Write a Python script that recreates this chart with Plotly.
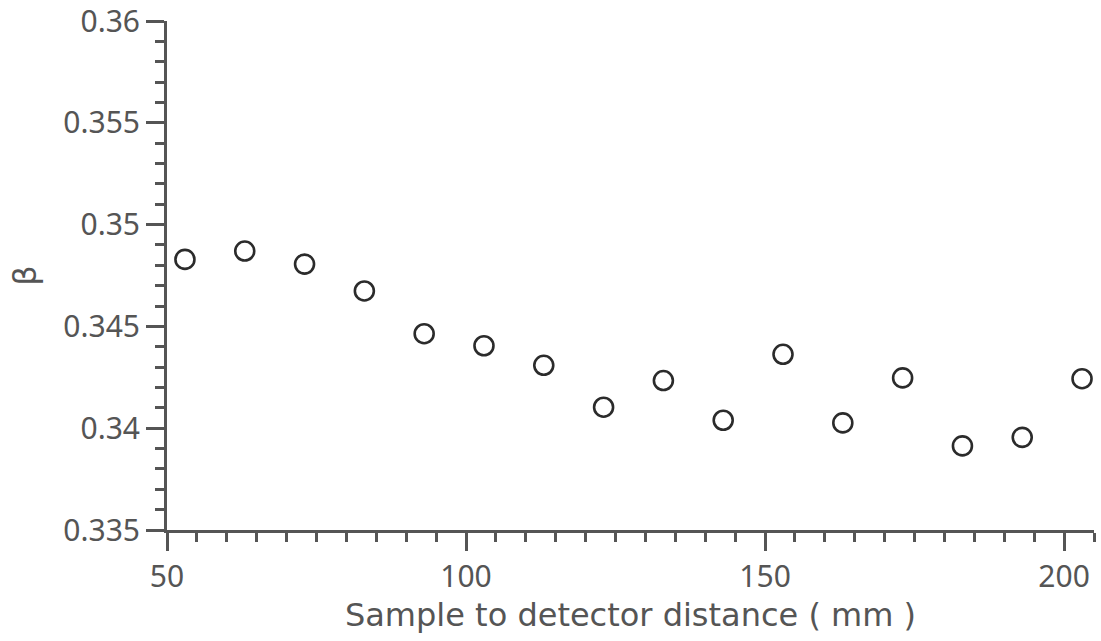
import plotly.graph_objects as go

distance_mm = [53, 63, 73, 83, 93, 103, 113, 123, 133, 143, 153, 163, 173, 183, 193, 203]
beta = [0.34829, 0.34870, 0.34806, 0.34674, 0.34464, 0.34405, 0.34309, 0.34103,
        0.34234, 0.34039, 0.34363, 0.34026, 0.34247, 0.33913, 0.33955, 0.34243]

x_ticks = [50, 100, 150, 200]
y_ticks = [0.335, 0.34, 0.345, 0.35, 0.355, 0.36]
y_tick_text = ["0.335", "0.34", "0.345", "0.35", "0.355", "0.36"]

axis_color = "#555555"
tick_font = "Noto Sans, Liberation Sans, sans-serif"
title_font = "DejaVu Sans, sans-serif"

fig = go.Figure(go.Scatter(
    x=distance_mm, y=beta, mode="markers",
    marker=dict(symbol="circle-open", size=19, color="#2b2b2b", line=dict(width=2.6, color="#2b2b2b")),
    showlegend=False, cliponaxis=False,
))

fig.update_layout(
    width=1101, height=641,
    margin=dict(l=167, r=7, t=21, b=111),
    paper_bgcolor="white", plot_bgcolor="white",
    font=dict(family=tick_font, size=30, color=axis_color),
)

fig.update_xaxes(
    range=[50, 205], tickvals=x_ticks, ticks="outside", ticklen=18, tickwidth=3,
    tickcolor=axis_color, showline=True, linewidth=3, linecolor=axis_color,
    showgrid=False, zeroline=False, automargin=False, ticklabeloverflow="allow",
    tickfont=dict(family=tick_font, size=30, color=axis_color),
    minor=dict(dtick=5, tick0=50, ticks="outside", ticklen=9, tickwidth=2.5, tickcolor=axis_color, showgrid=False),
    title=dict(text="Sample to detector distance ( mm )", standoff=2,
               font=dict(family=title_font, size=32, color=axis_color)),
)
fig.update_yaxes(
    range=[0.335, 0.36], tickvals=y_ticks, ticktext=y_tick_text, ticks="outside", ticklen=18, tickwidth=3,
    tickcolor=axis_color, showline=True, linewidth=3, linecolor=axis_color,
    showgrid=False, zeroline=False, automargin=False, ticklabeloverflow="allow",
    tickfont=dict(family=tick_font, size=30, color=axis_color),
    minor=dict(dtick=0.001, tick0=0.335, ticks="outside", ticklen=9, tickwidth=2.5, tickcolor=axis_color, showgrid=False),
    title=dict(text="β", standoff=18, font=dict(family=title_font, size=32, color=axis_color)),
)

fig.write_html("out.html", config={"displayModeBar": False},
               post_script="document.body.style.margin='0';")
